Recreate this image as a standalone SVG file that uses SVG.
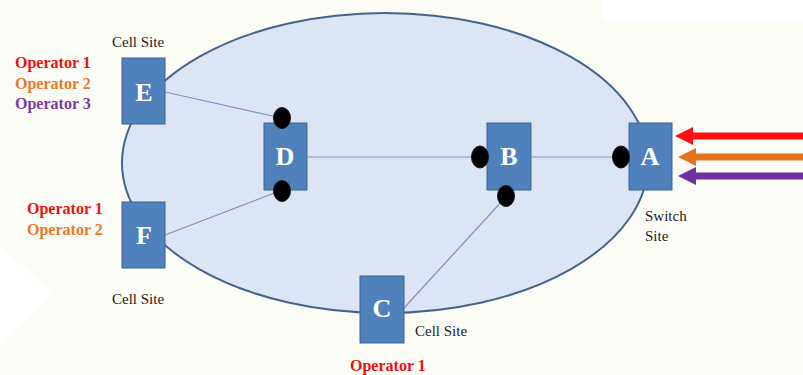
<svg xmlns="http://www.w3.org/2000/svg" width="803" height="375" viewBox="0 0 803 375">
  <defs>
    <style>
      .box { fill: #4f81bd; stroke: #3b6593; stroke-width: 1; }
      .letter { font-family: "Liberation Serif", "DejaVu Serif", serif; font-weight: bold; font-size: 26px; fill: #ffffff; text-anchor: middle; }
      .port { fill: #000000; stroke: #1a1a1a; stroke-width: 1; }
      .link { stroke: #7b96c0; stroke-width: 1.2; fill: none; }
      .site { font-family: "Liberation Serif", "DejaVu Serif", serif; font-size: 15px; fill: #1a1a1a; }
      .op { font-family: "Liberation Serif", "DejaVu Serif", serif; font-weight: bold; font-size: 16px; }
      .op1 { fill: #ee1111; }
      .op2 { fill: #e8782a; }
      .op3 { fill: #7a3aa8; }
    </style>
  </defs>

  <!-- background -->
  <rect x="0" y="0" width="803" height="375" fill="#fcfcf6"/>
  <rect x="602" y="0" width="201" height="21" fill="#ffffff"/>
  <polygon points="0,247 53,292 0,348" fill="#ffffff"/>

  <!-- network cloud -->
  <ellipse id="network" cx="385" cy="163" rx="263" ry="150" fill="#dce5f3" stroke="#44648c" stroke-width="2"/>

  <!-- connectors -->
  <g id="connectors">
    <line class="link" x1="165" y1="92" x2="277" y2="117"/>
    <line class="link" x1="165" y1="235" x2="277" y2="192"/>
    <line class="link" x1="307" y1="157" x2="472" y2="157"/>
    <line class="link" x1="531" y1="157" x2="613" y2="157"/>
    <line class="link" x1="404" y1="308" x2="503" y2="200"/>
    <!-- incoming operator feeds into A -->
    <g id="feeds">
      <line x1="803" y1="136" x2="690" y2="136" stroke="#ff1010" stroke-width="7"/>
      <polygon points="675,136 693,127 693,145" fill="#ff1010"/>
      <line x1="803" y1="157" x2="693" y2="157" stroke="#e8731f" stroke-width="7"/>
      <polygon points="678,157 696,148 696,166" fill="#e8731f"/>
      <line x1="803" y1="176" x2="693" y2="176" stroke="#7030a0" stroke-width="7"/>
      <polygon points="678,176 696,167 696,185" fill="#7030a0"/>
    </g>
  </g>

  <!-- nodes -->
  <g id="node-E">
    <rect class="box" x="122" y="58" width="43" height="66"/>
    <text class="letter" x="144" y="101">E</text>
    <text class="site" x="112" y="47">Cell Site</text>
    <text class="op op1" x="15" y="68">Operator 1</text>
    <text class="op op2" x="15" y="89">Operator 2</text>
    <text class="op op3" x="15" y="109">Operator 3</text>
  </g>

  <g id="node-F">
    <rect class="box" x="122" y="202" width="43" height="66"/>
    <text class="letter" x="144" y="244">F</text>
    <text class="site" x="112" y="304">Cell Site</text>
    <text class="op op1" x="27" y="214">Operator 1</text>
    <text class="op op2" x="27" y="235">Operator 2</text>
  </g>

  <g id="node-D">
    <rect class="box" x="264" y="123" width="43" height="67"/>
    <text class="letter" x="285" y="165">D</text>
    <ellipse class="port" cx="282" cy="118" rx="8.5" ry="10.5"/>
    <ellipse class="port" cx="282" cy="191" rx="8.5" ry="10.5"/>
  </g>

  <g id="node-B">
    <rect class="box" x="487" y="123" width="44" height="67"/>
    <text class="letter" x="509" y="165">B</text>
    <ellipse class="port" cx="480" cy="157" rx="8.5" ry="11"/>
    <ellipse class="port" cx="506" cy="196" rx="8.5" ry="10.5"/>
  </g>

  <g id="node-A">
    <rect class="box" x="629" y="123" width="43" height="67"/>
    <text class="letter" x="650" y="165">A</text>
    <ellipse class="port" cx="621" cy="157" rx="8.5" ry="11"/>
    <text class="site" x="645" y="221">Switch</text>
    <text class="site" x="645" y="241">Site</text>
  </g>

  <g id="node-C">
    <rect class="box" x="360" y="276" width="44" height="67"/>
    <text class="letter" x="382" y="317">C</text>
    <text class="site" x="415" y="336">Cell Site</text>
    <text class="op op1" x="350" y="371">Operator 1</text>
  </g>
</svg>
